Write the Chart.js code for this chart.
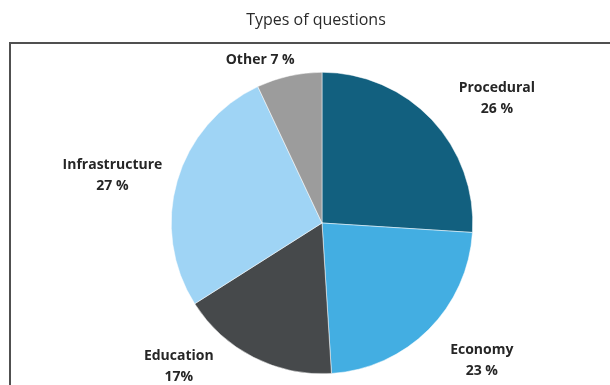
<!DOCTYPE html>
<html>
<head>
<meta charset="utf-8">
<script src="https://cdn.jsdelivr.net/npm/chart.js@4"></script>
<style>
  html, body { margin: 0; padding: 0; background: #fff; }
  #wrap { width: 610px; height: 385px; }
</style>
</head>
<body>
<div id="wrap"><canvas id="pieChart"></canvas></div>
<script>
// Data
const categories = ['Procedural', 'Economy', 'Education', 'Infrastructure', 'Other'];
const shares = [26, 23, 17, 27, 7];
const shareText = ['26 %', '23 %', '17%', '27 %', '7 %'];
const colors = ['#12607f', '#43aee2', '#46494b', '#9fd4f5', '#9c9c9c'];

// label placement relative to pie centre, in units of radius
const labelOffsets = [
  { dx: 1.16, dy: -0.83, inline: false },
  { dx: 1.06, dy: 0.91, inline: false },
  { dx: -0.95, dy: 0.95, inline: false },
  { dx: -1.39, dy: -0.32, inline: false },
  { dx: -0.41, dy: -1.08, inline: true }
];

const frameAndTitle = {
  id: 'frameAndTitle',
  beforeDraw(chart) {
    const ctx = chart.ctx;
    ctx.save();
    ctx.strokeStyle = '#505050';
    ctx.lineWidth = 2;
    ctx.strokeRect(10, 43, 640, 400);
    ctx.fillStyle = '#2a2a2a';
    ctx.font = '16px "Open Sans"';
    ctx.textAlign = 'center';
    ctx.textBaseline = 'middle';
    ctx.fillText('Types of questions', 316, 20);
    ctx.restore();
  }
};

const sliceLabels = {
  id: 'sliceLabels',
  afterDatasetsDraw(chart) {
    const ctx = chart.ctx;
    const arcs = chart.getDatasetMeta(0).data;
    ctx.save();
    ctx.font = 'bold 14px "Open Sans"';
    ctx.textAlign = 'center';
    ctx.textBaseline = 'middle';
    arcs.forEach((arc, i) => {
      const off = labelOffsets[i];
      const x = arc.x + off.dx * arc.outerRadius;
      const y = arc.y + off.dy * arc.outerRadius;
      ctx.fillStyle = '#262626';
      if (off.inline) {
        const txt = categories[i] + ' ' + shareText[i];
        const w = ctx.measureText(txt).width;
        ctx.fillStyle = '#fff';
        ctx.fillRect(x - w / 2 - 6, y - 12, w + 12, 24);
        ctx.fillStyle = '#262626';
        ctx.fillText(txt, x, y);
      } else {
        ctx.fillText(categories[i], x, y - 10);
        ctx.fillText(shareText[i], x, y + 11);
      }
    });
    ctx.restore();
  }
};

new Chart(document.getElementById('pieChart'), {
  type: 'pie',
  data: {
    labels: categories,
    datasets: [{
      data: shares,
      backgroundColor: colors,
      borderColor: '#ffffff',
      borderWidth: 0.5
    }]
  },
  options: {
    responsive: true,
    maintainAspectRatio: false,
    animation: false,
    layout: { padding: { left: 171, right: 137, top: 72, bottom: 11 } },
    plugins: {
      legend: { display: false },
      title: { display: false },
      tooltip: { enabled: false }
    }
  },
  plugins: [frameAndTitle, sliceLabels]
});
</script>
</body>
</html>
